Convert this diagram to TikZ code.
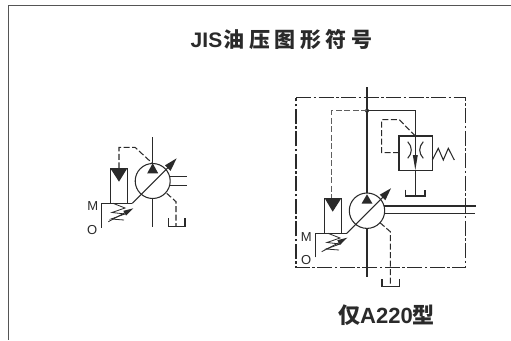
\documentclass[tikz,border=0pt]{standalone}
\usepackage{fontspec}
\setmainfont{Liberation Sans}
\newfontfamily\cjkfont{Noto Sans CJK SC}
\definecolor{ink}{HTML}{2A2A2A}
\tikzset{
  ln/.style={draw=ink,line width=1.05pt,line join=miter},
  thin ln/.style={draw=ink,line width=0.8pt},
  dsh/.style={draw=ink,line width=1.05pt,dash pattern=on 6pt off 2.5pt},
  dshg/.style={draw=ink!75,line width=1.3pt,dash pattern=on 6pt off 2.5pt},
  frm/.style={draw=ink,line width=1.05pt,dash pattern=on 15pt off 2.5pt on 2.5pt off 2.5pt},
  blk/.style={fill=ink,draw=none},
  lbl/.style={font=\fontsize{13}{14}\selectfont,text=ink,inner sep=0pt},
  ttl/.style={font=\cjkfont\bfseries\fontsize{21}{23}\selectfont,text=ink,inner sep=0pt}
}
\begin{document}
\begin{tikzpicture}[x=1pt,y=-1pt]
\useasboundingbox (0,0) rectangle (511,340);
\fill[white] (0,0) rectangle (511,340);
% outer border
\draw[draw=ink!80,line width=1pt] (511,5.5) -- (8.7,5.5) -- (8.7,340);
% titles
\node[ttl] (title) at (281.5,39.5) {{\bfseries\rmfamily JIS}\hspace{1.5pt}油\hspace{4.5pt}压\hspace{4.5pt}图\hspace{4.5pt}形\hspace{4.5pt}符\hspace{4.5pt}号};
\node[ttl,font=\cjkfont\bfseries\fontsize{22}{24}\selectfont] (model) at (386.5,315) {仅{\bfseries\rmfamily A220}型};

% ---------- left symbol ----------
\draw[ln] (152.7,137) -- (152.7,163);
\draw[ln] (152.7,198.5) -- (152.7,226.7);
\draw[ln] (152.7,181) circle (17.5);
\fill[blk] (152.7,163.3) -- (158.2,173.3) -- (147.2,173.3) -- cycle;
\draw[ln] (132.3,203.3) -- (168,167.6);
\fill[blk] (176.7,158.3) -- (170.5,170.8) -- (165,165.3) -- cycle;
\draw[dsh] (119,168.3) -- (119,147.3) -- (135,147.3) -- (151.7,162.7);
\draw[ln] (110.3,203.3) -- (110.3,168.3) -- (127.3,168.3) -- (127.3,203.3);
\fill[blk] (110.3,168.3) -- (127.3,168.3) -- (119,181.7) -- cycle;
\draw[ln] (101.7,227.7) -- (101.7,203.3) -- (132.3,203.3);
\draw[thin ln] (113,203.3) -- (125,208) -- (112,212.5) -- (125,214) -- (111,219) -- (124,220);
\draw[thin ln] (108.3,221.7) -- (128,211);
\fill[blk] (133.3,208.3) -- (126,215.5) -- (123.3,210.8) -- cycle;
\draw[ln] (170,176.7) -- (186.7,176.7) (170,185.7) -- (186.7,185.7);
\draw[dsh] (166.7,193.3) -- (176,201.7) -- (176,226.7);
\draw[ln] (168.3,218.3) -- (168.3,226.7) -- (185,226.7) -- (185,218.3);
\node[lbl] (ml) at (92.7,206.5) {M};
\node[lbl] (ol) at (92.3,230.5) {O};

% ---------- right symbol ----------
\draw[frm] (296,97.7) -- (465.3,97.7) -- (465.3,267.7) -- (296,267.7) -- cycle;
\draw[ln] (367,87) -- (367,193);
\draw[ln] (367,228.4) -- (367,276.7);
\fill[ink] (367,110.7) circle (2);
\draw[ln,line width=1.2pt] (367,110.7) -- (415.3,110.7) -- (415.3,136);
\draw[ln] (415.3,170.3) -- (415.3,196);
\draw[ln] (405.7,189.5) -- (405.7,196) -- (425,196) -- (425,189.5);
\draw[dshg] (367,110.7) -- (331.7,110.7) -- (331.7,198.3);
% valve
\draw[ln] (399,136) rectangle (432.3,170.3);
\draw[dsh] (399,152.7) -- (381.7,152.7) -- (381.7,119.7) -- (399.3,119.7) -- (415.3,136);
\draw[ln] (407.7,141.7) .. controls (412.5,147) and (412.5,153) .. (407.7,158.3);
\draw[ln] (423.3,141.7) .. controls (418.5,147) and (418.5,153) .. (423.3,158.3);
\draw[ln] (415.3,136) -- (415.3,156);
\fill[blk] (415.3,170) -- (412.8,155) -- (417.8,155) -- cycle;
\draw[ln] (432.3,160) -- (438.3,148.3) -- (443.3,160) -- (448.3,148.3) -- (454.3,160);
% pump
\draw[ln] (367,210.7) circle (17.7);
\fill[blk] (367,194.3) -- (372.4,203.5) -- (361.6,203.5) -- cycle;
\draw[ln] (346.7,233.3) -- (383,197);
\fill[blk] (391,188.3) -- (385.3,200.3) -- (379.7,194.7) -- cycle;
\draw[ln] (324.7,233.3) -- (324.7,198.3) -- (341.3,198.3) -- (341.3,233.3);
\fill[blk] (324.7,198.3) -- (341.3,198.3) -- (332.7,211.7) -- cycle;
\draw[ln] (315.7,257.3) -- (315.7,233.3) -- (346.7,233.3);
\draw[thin ln] (328,233.3) -- (340,238) -- (327,242.5) -- (340,244) -- (326,249) -- (339,250);
\draw[thin ln] (321.7,251.7) -- (342,241);
\fill[blk] (347.3,237.7) -- (340,244.9) -- (337.3,240.2) -- cycle;
\draw[ln] (384.3,206) -- (476,206) (384.3,213.7) -- (475,213.7);
\draw[dsh] (380,222.7) -- (390.3,231.7) -- (390.3,286.7);
\draw[ln] (382,279.3) -- (382,286.7) -- (399.7,286.7) -- (399.7,279.3);
\node[lbl] (mr) at (306.3,236.7) {M};
\node[lbl] (or) at (306.3,260) {O};
\end{tikzpicture}
\end{document}
